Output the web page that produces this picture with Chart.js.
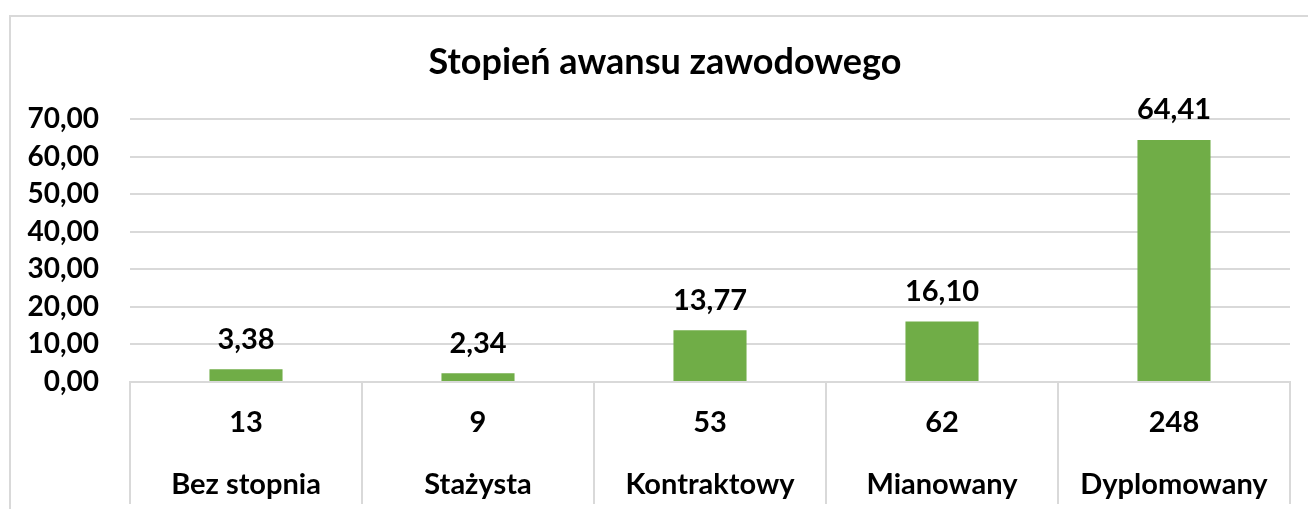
<!DOCTYPE html>
<html>
<head>
<meta charset="utf-8">
<script src="https://cdn.jsdelivr.net/npm/chart.js@4.4.1/dist/chart.umd.min.js"></script>
<style>
  html, body { margin: 0; padding: 0; background: #ffffff; }
  #wrap { width: 1308px; height: 509px; position: relative; }
</style>
</head>
<body>
<div id="wrap"><canvas id="c"></canvas></div>
<script>
const chartTitle = 'Stopień awansu zawodowego';
const categories = ['Bez stopnia', 'Stażysta', 'Kontraktowy', 'Mianowany', 'Dyplomowany'];
const counts = [13, 9, 53, 62, 248];
const percentValues = [3.38, 2.34, 13.77, 16.10, 64.41];
const yTickMin = 0;
const yTickMax = 70;
const yTickStep = 10;

const FONT = 'Lato, "Open Sans", sans-serif';
const GRID = '#d9d9d9';
const fmt = v => Number(v).toFixed(2).replace('.', ',');

const frameAndTitle = {
  id: 'frameAndTitle',
  beforeDraw(chart) {
    const ctx = chart.ctx;
    ctx.save();
    ctx.strokeStyle = GRID;
    ctx.lineWidth = 2;
    ctx.strokeRect(10, 16, 1330, 600);
    ctx.restore();
  },
  afterDraw(chart) {
    const ctx = chart.ctx;
    ctx.save();
    ctx.fillStyle = '#000000';
    ctx.font = 'bold 36px ' + FONT;
    ctx.textAlign = 'center';
    ctx.textBaseline = 'middle';
    ctx.fillText(chartTitle, 665, 62);
    ctx.restore();
  }
};

const valueLabels = {
  id: 'valueLabels',
  afterDatasetsDraw(chart) {
    const ctx = chart.ctx;
    const meta = chart.getDatasetMeta(0);
    ctx.save();
    ctx.fillStyle = '#000000';
    ctx.font = 'bold 29px ' + FONT;
    ctx.textAlign = 'center';
    ctx.textBaseline = 'middle';
    meta.data.forEach((bar, i) => {
      ctx.fillText(fmt(chart.data.datasets[0].data[i]), bar.x, bar.y - 30);
    });
    ctx.restore();
  }
};

new Chart(document.getElementById('c'), {
  type: 'bar',
  data: {
    labels: categories.map((c, i) => [String(counts[i]), c]),
    datasets: [{
      data: percentValues,
      backgroundColor: '#70ad47',
      borderWidth: 0,
      barPercentage: 0.315,
      categoryPercentage: 1.0
    }]
  },
  options: {
    responsive: true,
    maintainAspectRatio: false,
    animation: false,
    layout: { padding: { top: 119, right: 18, left: 0, bottom: 0 } },
    plugins: {
      legend: { display: false },
      title: { display: false },
      tooltip: { enabled: false }
    },
    scales: {
      x: {
        offset: true,
        grid: {
          display: true,
          offset: true,
          drawOnChartArea: false,
          drawTicks: true,
          tickLength: 122,
          color: GRID,
          lineWidth: 2
        },
        border: { display: true, color: GRID, width: 2 },
        ticks: {
          autoSkip: false,
          maxRotation: 0,
          minRotation: 0,
          padding: -112,
          color: '#000000',
          font: { family: FONT, size: 29, weight: 'bold', lineHeight: 2.138 }
        },
        afterFit(scale) { scale.height = 127; }
      },
      y: {
        min: yTickMin,
        max: yTickMax,
        grid: { color: GRID, lineWidth: 2, drawTicks: false },
        border: { display: false },
        ticks: {
          stepSize: yTickStep,
          padding: 31,
          color: '#000000',
          font: { family: FONT, size: 28, weight: 'bold' },
          callback: v => fmt(v)
        },
        afterFit(scale) { scale.width = 130; }
      }
    }
  },
  plugins: [frameAndTitle, valueLabels]
});
</script>
</body>
</html>
